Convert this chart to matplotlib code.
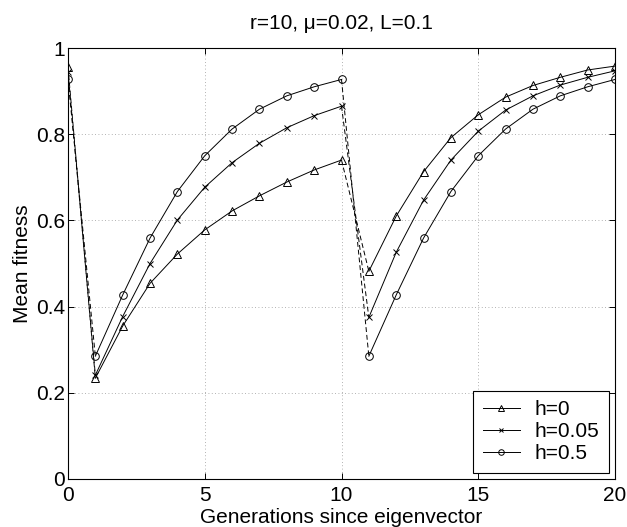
import numpy as np
import matplotlib.pyplot as plt
from matplotlib.lines import Line2D

plt.rcParams['font.family'] = ['Liberation Sans', 'DejaVu Sans']

gens = np.arange(0, 21)
labels = ['h=0', 'h=0.05', 'h=0.5']
markers = ['^', 'x', 'o']
fit_h0 = [0.955, 0.234, 0.355, 0.454, 0.522, 0.578, 0.622, 0.657, 0.689, 0.717, 0.740,
          0.482, 0.610, 0.713, 0.792, 0.845, 0.886, 0.913, 0.932, 0.949, 0.958]
fit_h005 = [0.945, 0.241, 0.377, 0.500, 0.601, 0.677, 0.734, 0.779, 0.815, 0.843, 0.865,
            0.375, 0.526, 0.647, 0.740, 0.807, 0.856, 0.889, 0.914, 0.932, 0.947]
fit_h05 = [0.927, 0.285, 0.427, 0.559, 0.667, 0.750, 0.812, 0.858, 0.889, 0.910, 0.927,
           0.285, 0.427, 0.559, 0.667, 0.750, 0.812, 0.858, 0.889, 0.910, 0.927]
series = [fit_h0, fit_h005, fit_h05]

fig = plt.figure(figsize=(6.27, 5.27), dpi=100)
ax = fig.add_axes([68 / 627, 1 - 479 / 527, (615 - 68) / 627, (479 - 48) / 527])

lw = 0.7
fs = 15
for vals, mk in zip(series, markers):
    y = np.array(vals)
    ms = 5.5 if mk != 'x' else 4
    mk_kw = dict(marker=mk, markersize=ms, markerfacecolor='none',
                 markeredgecolor='k', markeredgewidth=0.7)
    # dashed jumps (mutation steps)
    ax.plot(gens[0:2], y[0:2], 'k--', lw=lw, dashes=(5, 3))
    ax.plot(gens[10:12], y[10:12], 'k--', lw=lw, dashes=(5, 3))
    # solid selection phases
    ax.plot(gens[1:11], y[1:11], 'k-', lw=lw, **mk_kw)
    ax.plot(gens[11:21], y[11:21], 'k-', lw=lw, **mk_kw)
    ax.plot(gens[0:1], y[0:1], lw=0, **mk_kw)

ax.set_xlim(0, 20)
ax.set_ylim(0, 1)
ax.set_xticks([0, 5, 10, 15, 20])
ax.set_yticks([0, 0.2, 0.4, 0.6, 0.8, 1])
ax.set_xticklabels(['0', '5', '10', '15', '20'])
ax.set_yticklabels(['0', '0.2', '0.4', '0.6', '0.8', '1'])
ax.tick_params(direction='in', top=True, right=True, labelsize=fs, length=4, width=0.7)
ax.tick_params(axis='x', pad=5)
ax.tick_params(axis='y', pad=2)
ax.grid(True, linestyle=(0, (1, 3)), color='#999999', linewidth=0.6)
for s in ax.spines.values():
    s.set_linewidth(0.8)

ax.set_title('r=10, \u03bc=0.02, L=0.1', fontsize=fs, pad=14)
ax.set_xlabel('Generations since eigenvector', fontsize=fs, labelpad=2)
ax.set_ylabel('Mean fitness', fontsize=fs, labelpad=3)

handles = []
for lab, mk in zip(labels, markers):
    handles.append(Line2D([0], [0], color='k', lw=lw, marker=mk, markersize=4 if mk != 'x' else 3,
                          markerfacecolor='none', markeredgecolor='k', markeredgewidth=0.7, label=lab))
leg = ax.legend(handles=handles, loc='lower right', fontsize=fs, handlelength=1.8,
                fancybox=False, edgecolor='k', framealpha=1, borderaxespad=0.3,
                labelspacing=0.15, handletextpad=0.7, borderpad=0.45)
leg.get_frame().set_linewidth(0.8)

fig.savefig('out.png', dpi=100)
